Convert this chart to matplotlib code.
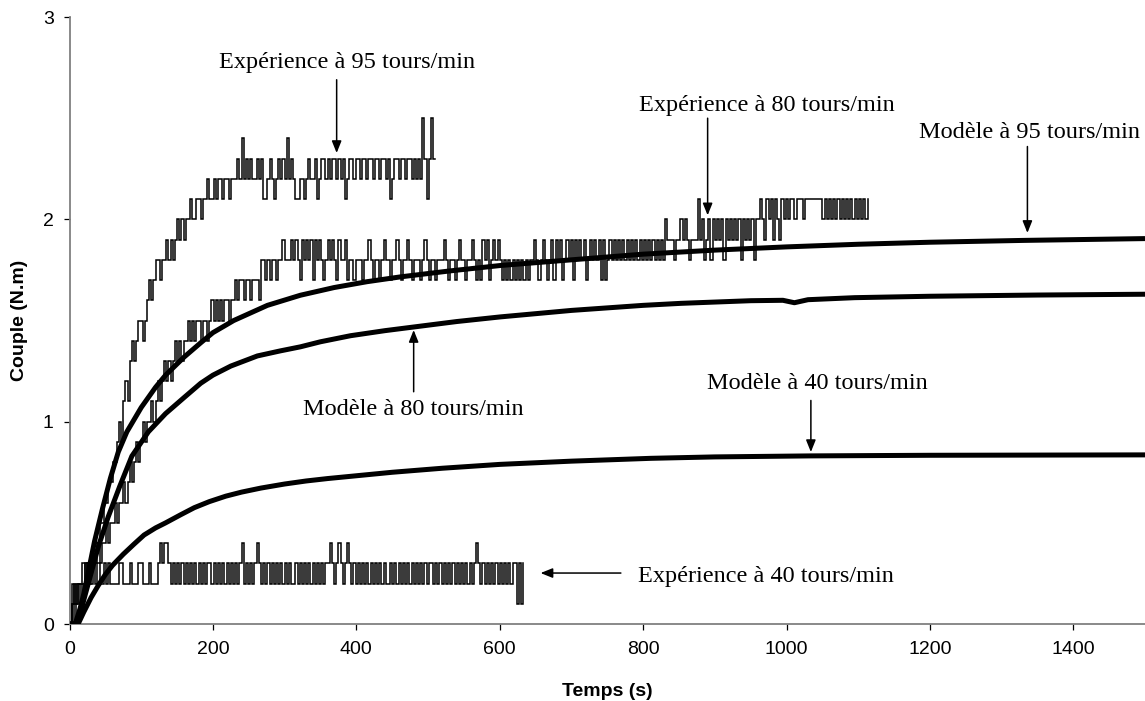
import numpy as np
import matplotlib
matplotlib.use("Agg")
import matplotlib.pyplot as plt

# Torque readings, sampled every 3 s, one character per sample.
# Each character is the torque in tenths of N.m, coded by its index in LEVELS.
LEVELS = "0123456789ABCDEFGHIJKLMNOP"
SAMPLE_STEP = 3.0  # s

exp40_codes = (
    "0212223232 2323223232 2223322232 2233222322 2343443232 3232323232 "
    "3232332323 2323232323 4232323432 3232323232 3232232323 2323232323 "
    "3432343234 3232323232 3232323223 2323232323 2323232332 3232323232 "
    "3232323234 3232323232 3232323313 13"
)

exp80_codes = (
    "0101212232 3334344545 5656676787 8989A9AABA BCBCDCDCDE DEDEEFEFEF "
    "FEFFEFGFGF GFGGFGGHGH HGHHGHHHGI IHIHIIHIIJ IIIJIJIHJI JIJHJIJIHI "
    "JIJIHJIIJH IIHIIIHIIJ IHIIHIJIIH IIJIHIIJIH IIIHIJIHII HIIIJIHIIH "
    "IJIIHIIJIH IHJIJHIJIJ IHIHIHIHIH IHIHIIJIHI JIHIJHJIJH IJIJHJIJIJ "
    "HIJIJIJHJH IJIJIJIJIJ IJIJIJIJIJ IJIJIJIKJJ JIJJKJKJIJ JJLJKIJKIK "
    "JKJKIKJKJK JKIKJKJKIK KLKJLKLJLK JLKLKLLKLL LKLLLLLLLL KLKLKLKLKL "
    "KLKLKLKLKL KL"
)

exp95_codes = (
    "0121222333 3444556677 889A9BCBDE DEFFEFGHGH IIHIIJIJIJ KJKJKKLKKL "
    "LKLLMLLMLM MLMMLMMMNM OMNMNMMNMN LLMNMLMNMN MOMNMLLMML MNMMNLMNNM "
    "NMNNMNMNLM NNMNNMNNMN NMNNMNNMNL MNNMNNMNNM NMNMPNLNPN N"
)

# Model predictions (time in s, torque in N.m)
model95_t = [0, 8, 15, 20, 27, 35, 46, 57, 68, 80, 100, 120, 134, 160, 183,
             200, 229, 276, 322, 369, 415, 462, 530, 601, 700, 800, 900,
             1000, 1100, 1200, 1330, 1500]
model95_c = [0.0, 0.0, 0.08, 0.15, 0.27, 0.41, 0.57, 0.72, 0.85, 0.95, 1.07,
             1.17, 1.23, 1.32, 1.39, 1.44, 1.50, 1.575, 1.625, 1.663, 1.692,
             1.716, 1.745, 1.772, 1.80, 1.828, 1.848, 1.864, 1.877, 1.887,
             1.896, 1.905]

model80_t = [0, 10, 15, 20, 30, 40, 54, 70, 87, 110, 134, 160, 183, 200, 225,
             262, 294, 322, 350, 392, 440, 480, 540, 601, 700, 800, 853,
             950, 995, 1011, 1030, 1095, 1200, 1350, 1500]
model80_c = [0.0, 0.0, 0.05, 0.12, 0.25, 0.38, 0.53, 0.68, 0.83, 0.95, 1.04,
             1.12, 1.19, 1.23, 1.275, 1.325, 1.35, 1.37, 1.395, 1.425, 1.45,
             1.468, 1.495, 1.518, 1.55, 1.575, 1.585, 1.598, 1.60, 1.588,
             1.603, 1.613, 1.62, 1.626, 1.63]

model40_t = [0, 12, 20, 30, 40, 50, 60, 75, 90, 104, 120, 134, 155, 174, 195,
             218, 240, 267, 300, 330, 360, 392, 450, 520, 600, 700, 811, 900,
             1034, 1200, 1500]
model40_c = [0.0, 0.0, 0.06, 0.13, 0.19, 0.245, 0.29, 0.345, 0.395, 0.44,
             0.475, 0.50, 0.54, 0.575, 0.605, 0.632, 0.652, 0.672, 0.692,
             0.707, 0.719, 0.73, 0.75, 0.77, 0.789, 0.805, 0.819, 0.826,
             0.831, 0.834, 0.836]

x_ticks = [0, 200, 400, 600, 800, 1000, 1200, 1400]
y_ticks = [0, 1, 2, 3]


def decode(codes):
    vals = np.array([LEVELS.index(ch) for ch in codes.replace(" ", "")]) / 10.0
    t = np.arange(len(vals)) * SAMPLE_STEP
    return t, vals


SERIF = ["Liberation Serif", "DejaVu Serif"]
SANS = ["Liberation Sans", "DejaVu Sans"]

fig = plt.figure(figsize=(11.45, 7.01), dpi=100)
ax = fig.add_axes([0.0607, 0.1098, 0.9393, 0.8659])

for codes in (exp40_codes, exp80_codes, exp95_codes):
    t, c = decode(codes)
    ax.plot(t, c, color="black", lw=1.1, drawstyle="steps-post",
            solid_joinstyle="miter", zorder=2)

for mt, mc in ((model95_t, model95_c), (model80_t, model80_c),
               (model40_t, model40_c)):
    ax.plot(mt, mc, color="black", lw=3.6, solid_capstyle="butt",
            solid_joinstyle="round", zorder=3)

ax.set_xlim(0, 1500)
ax.set_ylim(0, 3)
ax.set_xticks(x_ticks)
ax.set_yticks(y_ticks)

for side in ("top", "right"):
    ax.spines[side].set_visible(False)
for side in ("left", "bottom"):
    ax.spines[side].set_color("#808080")
    ax.spines[side].set_linewidth(1.3)

ax.tick_params(axis="both", direction="out", length=4.3, width=0.9,
               color="black", labelsize=14)
ax.tick_params(axis="x", pad=8)
ax.tick_params(axis="y", pad=7)
for lab in ax.get_xticklabels() + ax.get_yticklabels():
    lab.set_family(SANS)

ax.set_xlabel("Temps (s)", family=SANS, fontsize=14, fontweight="bold",
              labelpad=18)
ax.set_ylabel("Couple (N.m)", family=SANS, fontsize=14, fontweight="bold",
              labelpad=11)

arrow_kw = dict(arrowstyle="-|>,head_length=0.72,head_width=0.29",
                mutation_scale=10, color="black", lw=1.1,
                shrinkA=0, shrinkB=0)

# (label, text anchor, arrow tail, arrow tip)
annotations = [
    ("Expérience à 95 tours/min", (208, 2.748), (372.6, 2.69), (372.6, 2.328)),
    ("Expérience à 80 tours/min", (794, 2.536), (890, 2.50), (890, 2.02)),
    ("Modèle à 95 tours/min", (1185, 2.402), (1336, 2.36), (1336, 1.933)),
    ("Modèle à 80 tours/min", (326, 1.033), (480, 1.148), (480, 1.453)),
    ("Modèle à 40 tours/min", (889, 1.162), (1034, 1.105), (1034, 0.85)),
    ("Expérience à 40 tours/min", (793, 0.208), (769, 0.252), (657, 0.252)),
]
for label, txt_xy, tail, tip in annotations:
    ax.text(txt_xy[0], txt_xy[1], label, family=SERIF, fontsize=17.5,
            ha="left", va="baseline", zorder=5)
    ax.annotate("", xy=tip, xytext=tail, arrowprops=arrow_kw, zorder=5)

fig.savefig("out.png", dpi=100)
